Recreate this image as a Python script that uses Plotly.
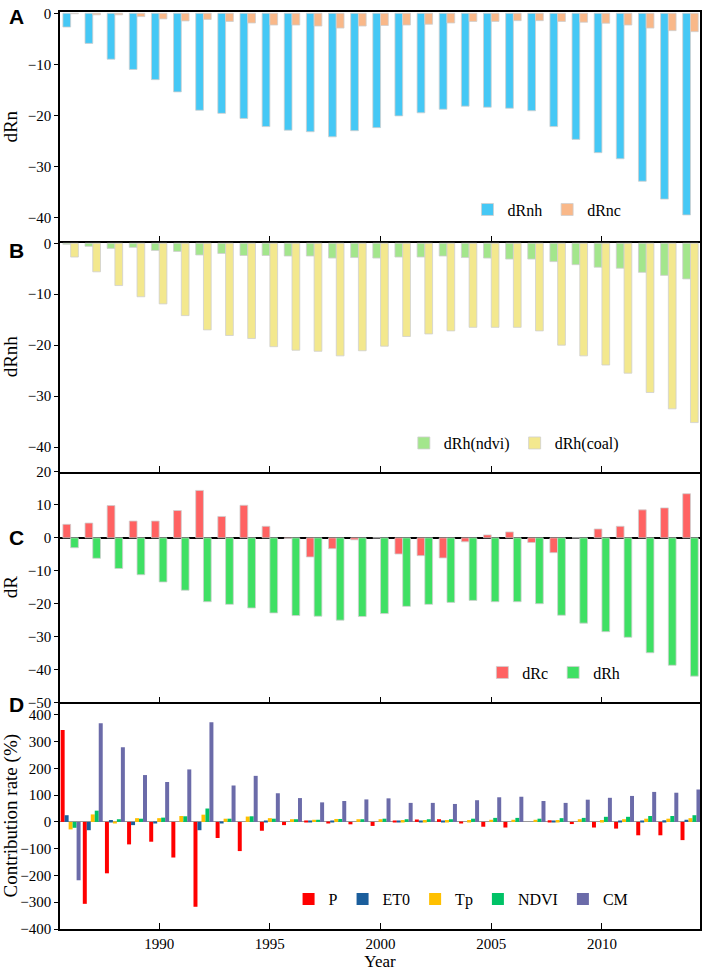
import plotly.graph_objects as go

years = list(range(1986, 2015))

# Panel A
dRnh = [-2.7, -5.9, -9.0, -11.0, -13.0, -15.4, -19.0, -19.6, -20.6, -22.2, -22.9, -23.2, -24.2,
        -23.0, -22.4, -20.1, -19.5, -18.8, -18.2, -18.4, -18.6, -19.1, -22.2, -24.7, -27.3, -28.5,
        -32.9, -36.4, -39.5]
dRnc = [-0.1, -0.3, -0.3, -0.65, -1.1, -1.5, -1.2, -1.6, -1.9, -2.3, -2.3, -2.5, -2.9,
        -2.5, -2.4, -2.3, -2.15, -1.9, -1.6, -1.6, -1.45, -1.45, -1.6, -1.75, -1.95, -2.3,
        -2.9, -3.4, -3.6]
# Panel B
dRh_ndvi = [-0.2, -0.6, -1.0, -0.8, -1.4, -1.6, -2.3, -2.0, -2.4, -2.4, -2.5, -2.5, -2.9,
            -2.8, -2.9, -2.7, -2.7, -2.5, -2.8, -2.9, -3.1, -3.1, -3.6, -4.2, -4.7, -4.9,
            -5.7, -6.3, -7.0]
dRh_coal = [-2.7, -5.6, -8.3, -10.5, -11.9, -14.2, -17.0, -18.1, -18.7, -20.3, -21.0, -21.2, -22.1,
            -21.1, -20.2, -18.3, -17.8, -17.2, -16.5, -16.5, -16.5, -17.2, -20.0, -22.1, -23.9, -25.5,
            -29.3, -32.5, -35.2]
# Panel C
dRc = [4.1, 4.5, 9.8, 5.1, 5.1, 8.3, 14.4, 6.5, 9.9, 3.5, -0.2, -5.8, -3.3,
       -0.6, 0.0, -4.9, -5.4, -6.1, -1.2, 0.9, 1.8, -1.4, -4.5, 0.0, 2.7, 3.5,
       8.5, 9.1, 13.4]
dRh = [-3.0, -6.2, -9.3, -11.2, -13.4, -15.9, -19.4, -20.2, -21.3, -22.8, -23.6, -23.8, -25.0,
       -23.9, -23.0, -20.8, -20.2, -19.6, -19.0, -19.4, -19.4, -20.0, -23.5, -25.9, -28.5, -30.2,
       -34.9, -38.7, -42.0]
# Panel D (contribution rate, %)
P = [343, -306, -192, -84, -74, -133, -317, -60, -109, -33, -12, 5, -4,
     -9, -15, 5, 9, 10, -3, -18, -21, 0, 6, -8, -21, -25, -50, -50, -68]
ET0 = [25, -31, 7, -12, -3, 0, -31, -3, 0, 2, 0, 5, 5,
       0, 0, 5, 4, 5, 0, 0, 0, 0, 2, 0, 0, 2, 5, 6, 8]
Tp = [-28, 28, -3, 14, 14, 22, 27, 12, 20, 14, 10, 8, 11,
      10, 10, 7, 7, 7, 7, 8, 8, 8, 7, 10, 7, 10, 12, 12, 14]
NDVI = [-22, 42, 10, 12, 16, 21, 50, 12, 21, 12, 10, 8, 11,
        10, 12, 10, 10, 10, 12, 15, 15, 12, 14, 15, 19, 19, 22, 22, 25]
CM = [-218, 368, 279, 175, 149, 196, 372, 136, 172, 107, 89, 73, 78,
      84, 88, 71, 71, 67, 81, 92, 94, 78, 71, 83, 90, 97, 112, 109, 121]

xticks = [1990, 1995, 2000, 2005, 2010]

SERIF = "Liberation Serif, Times New Roman, serif"
fig = go.Figure()

def add_bar(y, name, color, ax, lg, offset, width, outline=True):
    fig.add_trace(go.Bar(
        x=years, y=y, name=name, offset=offset, width=width,
        marker=dict(color=color,
                    line=dict(color="#cfcfcf", width=0.8 if outline else 0)),
        xaxis="x" + ax, yaxis="y" + ax, legend=lg))

w2 = 0.35
add_bar(dRnh, "dRnh", "#45c8f5", "", "legend", -w2, w2)
add_bar(dRnc, "dRnc", "#f9b889", "", "legend", 0, w2)
add_bar(dRh_ndvi, "dRh(ndvi)", "#a3e68c", "2", "legend2", -w2, w2)
add_bar(dRh_coal, "dRh(coal)", "#f3e88e", "2", "legend2", 0, w2)
add_bar(dRc, "dRc", "#ff6262", "3", "legend3", -w2, w2)
add_bar(dRh, "dRh", "#3fe064", "3", "legend3", 0, w2)
w5 = 0.18
for i, (ser, nm, col) in enumerate([(P, "P", "#ff0000"), (ET0, "ET0", "#1b5e9c"),
                                     (Tp, "Tp", "#ffc000"), (NDVI, "NDVI", "#00c266"),
                                     (CM, "CM", "#6b6ba9")]):
    add_bar(ser, nm, col, "4", "legend4", -0.45 + i * w5, w5, outline=False)

H = 919.0
def py(ypx):
    return (929 - ypx) / H

def xp(xpx):
    return (xpx - 58) / 644.0

doms = [[py(240), 1.0], [py(471), py(240)], [py(702), py(471)], [0.0, py(702)]]
yranges = [[-44.7, 0.25], [-44.9, 0.35], [-50, 20], [-400, 446]]
dticks = [10, 10, 10, 100]
ytitles = ["dRn", "dRnh", "dR", "Contribution rate (%)"]
standoffs = [9, 9, 9, 3]
zl = [dict(zeroline=False), dict(zeroline=False),
      dict(zeroline=True, zerolinecolor="black", zerolinewidth=1.5, layer="above traces"),
      dict(zeroline=True, zerolinecolor="#9a9a9a", zerolinewidth=1)]

layout = dict(
    width=706, height=972,
    margin=dict(l=58, r=4, t=10, b=43),
    paper_bgcolor="white", plot_bgcolor="white",
    font=dict(family=SERIF, size=15, color="black"),
    barmode="overlay",
    showlegend=True,
)
for i in range(4):
    sfx = "" if i == 0 else str(i + 1)
    layout["xaxis" + sfx] = dict(
        domain=[0, 1], anchor="y" + sfx, range=[1985.52, 2014.43],
        tickvals=xticks, ticks="inside", ticklen=6, tickwidth=1.2, tickcolor="black",
        showline=True, linecolor="black", linewidth=1.5, mirror=(i == 0),
        showgrid=False, zeroline=False,
        showticklabels=(i == 3),
        tickfont=dict(family=SERIF, size=15),
    )
    if i < 3:
        layout["xaxis" + sfx]["matches"] = "x4"
    layout["yaxis" + sfx] = dict(
        domain=doms[i], anchor="x" + sfx, range=yranges[i], dtick=dticks[i], tick0=0,
        ticks="outside", ticklen=4, tickwidth=1.2, tickcolor="black",
        showline=True, linecolor="black", linewidth=1.5, mirror=True,
        showgrid=False, tickfont=dict(family=SERIF, size=15),
        title=dict(text=ytitles[i], font=dict(family=SERIF, size=19), standoff=standoffs[i]),
        **zl[i],
    )
layout["xaxis4"]["title"] = dict(text="Year", font=dict(family=SERIF, size=17), standoff=4)

leg_common = dict(orientation="h", xanchor="left", yanchor="middle",
                  bgcolor="rgba(0,0,0,0)", font=dict(family=SERIF, size=16),
                  itemwidth=30, tracegroupgap=0)
layout["legend"] = dict(x=xp(468), y=py(208), **leg_common)
layout["legend2"] = dict(x=xp(404), y=py(442), **leg_common)
layout["legend3"] = dict(x=xp(483), y=py(672), **leg_common)
layout["legend4"] = dict(x=xp(288), y=py(899), **leg_common)

letters = [("A", 15), ("B", 249), ("C", 537), ("D", 704)]
layout["annotations"] = [
    dict(text="<b>%s</b>" % t, xref="paper", yref="paper", x=xp(14), y=py(yy),
         xanchor="center", yanchor="middle", showarrow=False,
         font=dict(family="Liberation Sans, Arial, sans-serif", size=21, color="black"))
    for t, yy in letters
]

fig.update_layout(**layout)
fig.write_html("out.html",
               config={"displayModeBar": False},
               post_script="document.body.style.margin='0';document.body.style.overflow='hidden';")
